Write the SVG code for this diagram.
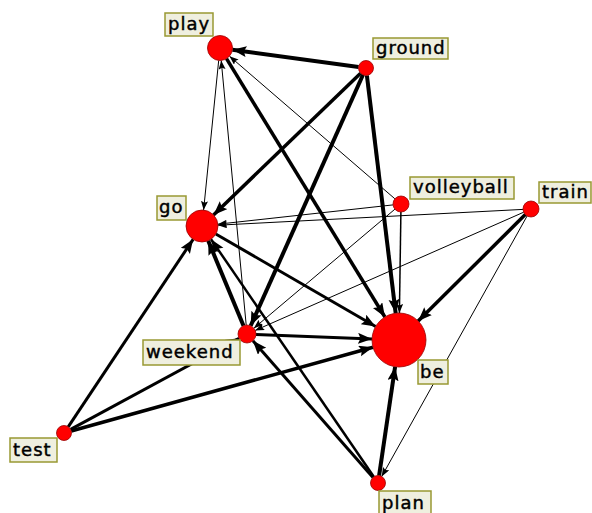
<svg xmlns="http://www.w3.org/2000/svg" width="592" height="513" viewBox="0 0 592 513">
  <style>
    .edge { stroke: #000; fill: none; stroke-linecap: butt; }
    .w1 { stroke-width: 1; marker-end: url(#as); }
    .w15 { stroke-width: 1.5; marker-end: url(#as); }
    .w25 { stroke-width: 2.5; marker-end: url(#ab); }
    .w3 { stroke-width: 3; marker-end: url(#ab); }
    .w35 { stroke-width: 3.5; marker-end: url(#ab); }
    .w4 { stroke-width: 4; marker-end: url(#ab); }
    .node circle { fill: #ff0000; stroke: #990000; stroke-width: 0.8; }
    .node rect { fill: #efefdf; stroke: #999933; stroke-width: 1.5; }
    .node text { font-family: "DejaVu Sans", "Liberation Sans", sans-serif; font-size: 18px; letter-spacing: 1px; fill: #000; stroke: #000; stroke-width: 0.45; }
  </style>
  <defs>
    <marker id="ab" markerUnits="userSpaceOnUse" markerWidth="15" markerHeight="12" refX="14" refY="5.5" orient="auto">
      <path d="M0,0 L14,5.5 L0,11 L2.5,5.5 z" fill="#000"/>
    </marker>
    <marker id="as" markerUnits="userSpaceOnUse" markerWidth="10" markerHeight="8" refX="9" refY="3.5" orient="auto">
      <path d="M0,0 L9,3.5 L0,7 L1.5,3.5 z" fill="#000"/>
    </marker>
  </defs>
  <rect width="592" height="513" fill="#fff"/>

  <g id="edges">
    <line class="edge w4" x1="358.6" y1="67.0" x2="232.4" y2="49.7"/>
    <line class="edge w35" x1="360.6" y1="73.2" x2="213.5" y2="214.9"/>
    <line class="edge w4" x1="363.0" y1="74.8" x2="250.7" y2="325.8"/>
    <line class="edge w4" x1="366.9" y1="75.4" x2="395.7" y2="313.2"/>
    <line class="edge w35" x1="226.5" y1="58.7" x2="384.9" y2="317.0"/>
    <line class="edge w1" x1="394.9" y1="198.8" x2="229.5" y2="56.2"/>
    <line class="edge w1" x1="246.2" y1="325.0" x2="221.2" y2="60.4"/>
    <line class="edge w1" x1="218.7" y1="60.4" x2="203.6" y2="210.1"/>
    <line class="edge w1" x1="393.0" y1="204.9" x2="217.9" y2="224.2"/>
    <line class="edge w1" x1="523.0" y1="209.4" x2="218.0" y2="225.2"/>
    <line class="edge w3" x1="68.2" y1="426.8" x2="193.1" y2="239.3"/>
    <line class="edge w4" x1="243.5" y1="325.7" x2="208.2" y2="240.8"/>
    <line class="edge w25" x1="373.8" y1="476.8" x2="211.0" y2="239.2"/>
    <line class="edge w3" x1="215.8" y1="234.0" x2="375.6" y2="326.5"/>
    <line class="edge w1" x1="394.9" y1="209.2" x2="253.9" y2="328.2"/>
    <line class="edge w1" x1="523.7" y1="212.2" x2="255.2" y2="330.4"/>
    <line class="edge w3" x1="373.0" y1="477.4" x2="252.9" y2="340.8"/>
    <line class="edge w3" x1="70.6" y1="429.4" x2="239.1" y2="338.3"/>
    <line class="edge w3" x1="256.0" y1="334.4" x2="372.0" y2="338.9"/>
    <line class="edge w35" x1="71.2" y1="431.0" x2="373.0" y2="347.2"/>
    <line class="edge w35" x1="525.3" y1="214.6" x2="418.2" y2="321.0"/>
    <line class="edge w1" x1="527.1" y1="216.0" x2="381.7" y2="476.5"/>
    <line class="edge w15" x1="400.9" y1="212.0" x2="399.4" y2="313.0"/>
    <line class="edge w4" x1="379.1" y1="475.6" x2="395.1" y2="366.7"/>
  </g>

  <g id="node-play" class="node">
    <circle cx="220" cy="48" r="12.5"/>
    <rect x="165" y="13" width="48" height="23"/>
    <text x="168" y="30">play</text>
  </g>
  <g id="node-ground" class="node">
    <circle cx="366" cy="68" r="7.5"/>
    <rect x="373" y="38" width="75" height="21"/>
    <text x="376" y="54">ground</text>
  </g>
  <g id="node-volleyball" class="node">
    <circle cx="401" cy="204" r="8"/>
    <rect x="410" y="177" width="104" height="22"/>
    <text x="413" y="193">volleyball</text>
  </g>
  <g id="node-train" class="node">
    <circle cx="531" cy="209" r="8"/>
    <rect x="539" y="182" width="52" height="21"/>
    <text x="542" y="198">train</text>
  </g>
  <g id="node-go" class="node">
    <circle cx="202" cy="226" r="16"/>
    <rect x="157" y="196" width="29" height="24"/>
    <text x="159" y="213">go</text>
  </g>
  <g id="node-weekend" class="node">
    <circle cx="247" cy="334" r="9"/>
    <rect x="143" y="340" width="97" height="25"/>
    <text x="146" y="358">weekend</text>
  </g>
  <g id="node-be" class="node">
    <circle cx="399" cy="340" r="27"/>
    <rect x="418" y="360" width="30" height="24"/>
    <text x="420" y="378">be</text>
  </g>
  <g id="node-test" class="node">
    <circle cx="64" cy="433" r="7.5"/>
    <rect x="10" y="438" width="47" height="24"/>
    <text x="13" y="456">test</text>
  </g>
  <g id="node-plan" class="node">
    <circle cx="378" cy="483" r="7.5"/>
    <rect x="379" y="491" width="52" height="24"/>
    <text x="382" y="509">plan</text>
  </g>
</svg>
